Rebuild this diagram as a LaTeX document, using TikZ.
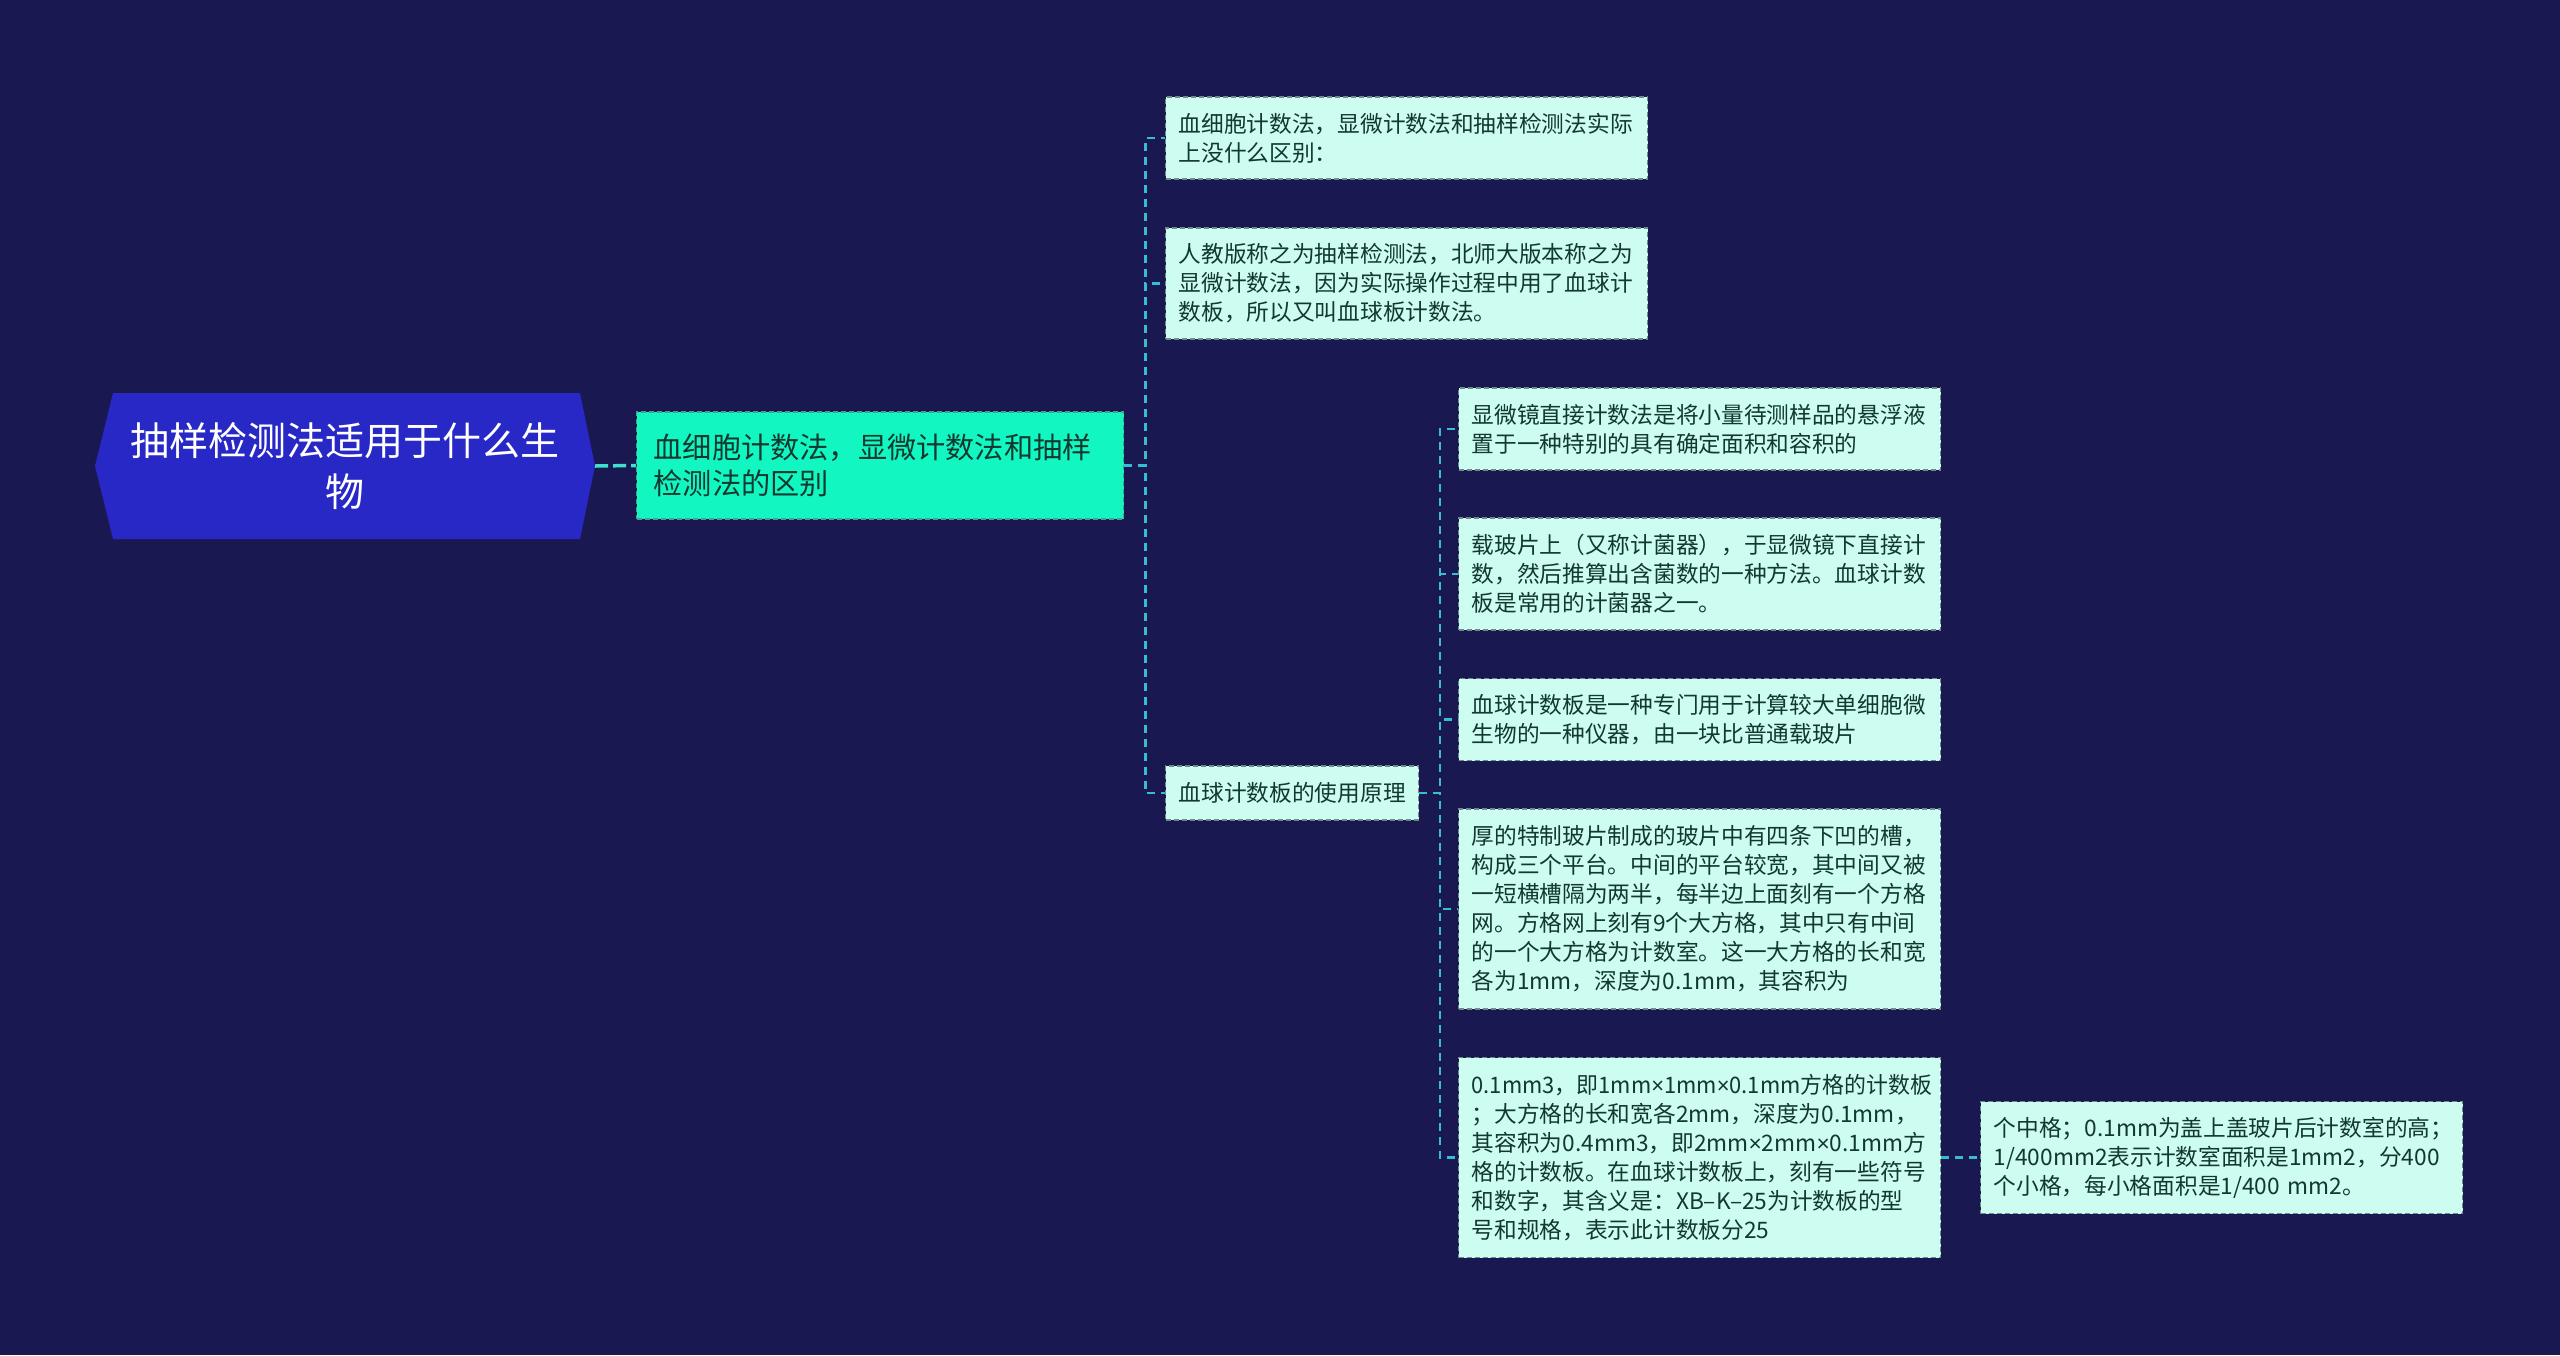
\documentclass[tikz,border=0pt]{standalone}
\usepackage{fontspec}
\setmainfont{Noto Sans CJK SC}
\newfontfamily\symfnt{Liberation Sans}
\newcommand{\tms}{{\symfnt ×}}
\definecolor{bgc}{HTML}{1A1850}
\definecolor{rootc}{HTML}{2828C6}
\definecolor{lonec}{HTML}{12F7C2}
\definecolor{leafc}{HTML}{CCFDF0}
\definecolor{leafborder}{HTML}{6F8A88}
\definecolor{loneborder}{HTML}{4E9C8C}
\definecolor{linkc}{HTML}{35BDD6}
\definecolor{rootlink}{HTML}{3FE0CE}
\definecolor{leaftext}{HTML}{12382F}
\begin{document}
\begin{tikzpicture}[x=1pt,y=-1pt,
  leaf/.style={draw=leafborder, fill=leafc, line width=1.4pt, dash pattern=on 5pt off 3pt,
    text=leaftext, anchor=west, align=left, inner xsep=13pt, inner ysep=0pt,
    text width=456pt, font=\fontsize{22.7}{29}\selectfont},
  lone/.style={draw=loneborder, fill=lonec, line width=1.4pt, dash pattern=on 5pt off 3pt,
    text=leaftext, anchor=west, align=left, inner xsep=17pt, inner ysep=0pt,
    text width=453pt, font=\fontsize{29.2}{36}\selectfont},
  link/.style={draw=linkc, line width=2.2pt, dash pattern=on 8pt off 6pt},
  rlink/.style={draw=rootlink, line width=3.5pt, dash pattern=on 13pt off 5pt}
]
\fill[bgc] (0,0) rectangle (2560,1355);
\useasboundingbox (0,0) rectangle (2560,1355);

% root
\fill[rootc] (95,466) -- (113,393) -- (580,393) -- (595,466) -- (580,539) -- (113,539) -- cycle;
\node[minimum width=500pt, minimum height=146pt, text=white, align=center,
  font=\fontsize{39}{51}\selectfont] (root) at (345,466) {抽样检测法适用于什么生\\物};

% level 1
\node[lone, minimum height=107pt] (L1) at (636,465.5) {血细胞计数法，显微计数法和抽样\\检测法的区别};

% children of L1
\node[leaf, minimum height=82pt] (A) at (1165,138) {血细胞计数法，显微计数法和抽样检测法实际\\上没什么区别：};
\node[leaf, minimum height=111pt] (B) at (1165,283.5) {人教版称之为抽样检测法，北师大版本称之为\\显微计数法，因为实际操作过程中用了血球计\\数板，所以又叫血球板计数法。};
\node[leaf, text width=, align=center, minimum width=252pt, minimum height=54pt] (C) at (1165,793) {血球计数板的使用原理};

% children of C
\node[leaf, minimum height=82pt] (D) at (1458,429) {显微镜直接计数法是将小量待测样品的悬浮液\\置于一种特别的具有确定面积和容积的};
\node[leaf, minimum height=112pt] (E) at (1458,574) {载玻片上（又称计菌器），于显微镜下直接计\\数，然后推算出含菌数的一种方法。血球计数\\板是常用的计菌器之一。};
\node[leaf, minimum height=82pt] (F) at (1458,719.5) {血球计数板是一种专门用于计算较大单细胞微\\生物的一种仪器，由一块比普通载玻片};
\node[leaf, minimum height=200pt] (G) at (1458,909) {厚的特制玻片制成的玻片中有四条下凹的槽，\\构成三个平台。中间的平台较宽，其中间又被\\一短横槽隔为两半，每半边上面刻有一个方格\\网。方格网上刻有9个大方格，其中只有中间\\的一个大方格为计数室。这一大方格的长和宽\\各为1mm，深度为0.1mm，其容积为};
\node[leaf, minimum height=200pt] (H) at (1458,1157.5) {\scalebox{0.965}[1]{0.1mm3，即1mm\tms 1mm\tms 0.1mm方格的计数板}\\；大方格的长和宽各2mm，深度为0.1mm，\\其容积为0.4mm3，即2mm\tms 2mm\tms 0.1mm方\\格的计数板。在血球计数板上，刻有一些符号\\和数字，其含义是：XB–K–25为计数板的型\\号和规格，表示此计数板分25};
\node[leaf, minimum height=112pt] (I) at (1980,1157.5) {个中格；0.1mm为盖上盖玻片后计数室的高；\\1/400mm2表示计数室面积是1mm2，分400\\个小格，每小格面积是1/400 mm2。};

% connectors
\draw[rlink] (root.east) -- (L1.west);
\draw[link] (L1.east) -- ++(21,0) |- (A.west);
\draw[link] (L1.east) -- ++(21,0) |- (B.west);
\draw[link] (L1.east) -- ++(21,0) |- (C.west);
\draw[link] (C.east) -- ++(20.5,0) |- (D.west);
\draw[link] (C.east) -- ++(20.5,0) |- (E.west);
\draw[link] (C.east) -- ++(20.5,0) |- (F.west);
\draw[link] (C.east) -- ++(20.5,0) |- (G.west);
\draw[link] (C.east) -- ++(20.5,0) |- (H.west);
\draw[link] (H.east) -- (I.west);
\end{tikzpicture}
\end{document}
